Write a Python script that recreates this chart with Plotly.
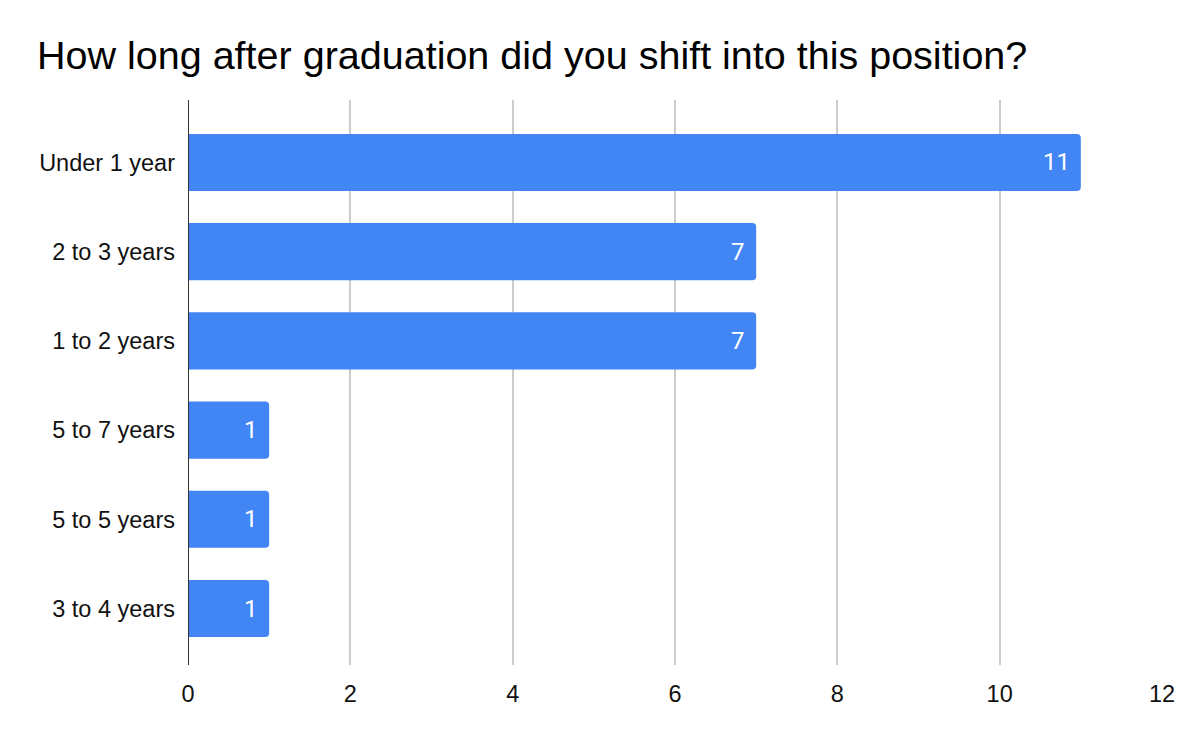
import plotly.graph_objects as go

categories = ["Under 1 year", "2 to 3 years", "1 to 2 years", "5 to 7 years", "5 to 5 years", "3 to 4 years"]
values = [11, 7, 7, 1, 1, 1]
x_ticks = [0, 2, 4, 6, 8, 10, 12]

fig = go.Figure()
fig.add_trace(go.Bar(
    x=values, y=categories, orientation="h",
    marker=dict(color="#4285F4", line=dict(width=0)),
    width=0.64,
    hoverinfo="x+y",
))
for c, v in zip(categories, values):
    fig.add_annotation(x=v, y=c, xref="x", yref="y", text=str(v), showarrow=False,
                       xanchor="right", yanchor="middle", xshift=-9,
                       font=dict(family="Roboto", size=24, color="white"))
fig.update_layout(
    width=1200, height=742,
    margin=dict(l=188, r=38, t=100, b=77),
    paper_bgcolor="white", plot_bgcolor="white",
    barcornerradius=4,
    title=dict(text="How long after graduation did you shift into this position?",
               x=37/1200, xanchor="left", y=1-55/742, yanchor="middle",
               font=dict(family="Liberation Sans, Arial", size=39.5, color="#000000")),
    xaxis=dict(range=[0, 12], tickvals=x_ticks, showgrid=True, gridcolor="#cccccc", gridwidth=1.5,
               zeroline=False, showline=False, ticks="", ticklabelstandoff=12,
               tickfont=dict(family="Liberation Sans, Arial", size=23.5, color="#111111")),
    yaxis=dict(type="category", categoryorder="array", categoryarray=categories,
               range=[5.633, -0.70], showgrid=False, zeroline=False, ticks="",
               showline=False, ticklabelstandoff=12,
               tickfont=dict(family="Liberation Sans, Arial", size=23.5, color="#111111")),
    showlegend=False,
)
fig.add_vline(x=0, line=dict(color="#333333", width=2), layer="above")
fig.write_html("out.html")
